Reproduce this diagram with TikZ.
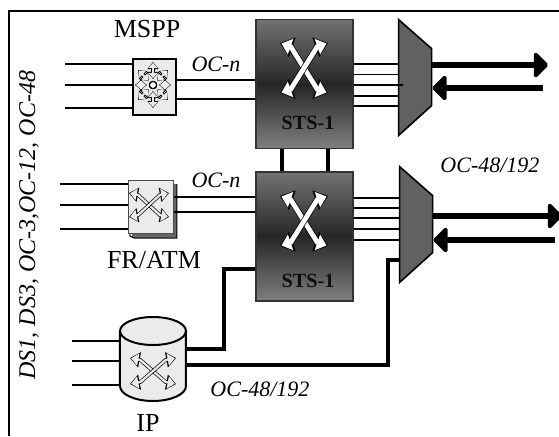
\documentclass[tikz,border=0pt]{standalone}
\usepackage{fontspec}
\setmainfont{Liberation Serif}
\usetikzlibrary{arrows.meta, shapes.geometric, positioning}

% one crossing arrow, black first and the light body over it
\newcommand{\xarm}[5]{%
  \draw[line width=#3, draw=black, {Triangle[length=6.5pt,width=10pt,scale=#5]}-{Triangle[length=6.5pt,width=10pt,scale=#5]}] #1;
  \draw[line width=#2, draw=#4, fill=#4, shorten <=#5*.8pt, shorten >=#5*.8pt, {Triangle[length=4.8pt,width=8pt,scale=#5]}-{Triangle[length=4.8pt,width=8pt,scale=#5]}] #1;
}
\newcommand{\xcross}[8]{%
  \xarm{(#1-#3,#2-#4) -- (#1-.55*#3,#2-.85*#4) -- (#1+.55*#3,#2+.85*#4) -- (#1+#3,#2+#4)}{#5}{#6}{#7}{#8}
  \xarm{(#1+#3,#2-#4) -- (#1+.55*#3,#2-.85*#4) -- (#1-.55*#3,#2+.85*#4) -- (#1-#3,#2+#4)}{#5}{#6}{#7}{#8}
}

\begin{document}
\begin{tikzpicture}[x=.5pt,y=-.5pt]
    \tikzstyle{stub}=[line width=1pt]
    \tikzstyle{trunk}=[line width=1.6pt]
    \tikzstyle{thin stub}=[line width=.8pt]
    \tikzstyle{bigarrow}=[line width=3pt,-{Triangle[round,length=7.5pt,width=14.5pt]}]
    \tikzstyle{icon}=[rectangle,draw=black,line width=1pt,fill=black!8,inner sep=0pt]
    \tikzstyle{stsbox}=[rectangle,draw=black!80,line width=.7pt,inner sep=0pt,minimum width=48.5pt,minimum height=64.5pt,
        top color=black!55,bottom color=black!50,middle color=black!85]
    \tikzstyle{muxnode}=[rectangle,inner sep=0pt,minimum width=16.5pt]
    \tikzstyle{muxbody}=[draw=black,line width=.8pt,fill=black!62]
    \tikzstyle{lab}=[font=\fontsize{13}{13}\selectfont,inner sep=0pt]
    \tikzstyle{oc}=[font=\fontsize{11}{11}\selectfont\itshape,inner sep=0pt]

    \useasboundingbox (0,0) rectangle (559,436);

    % the frame
    \draw[line width=.9pt] (559,11) -- (9,11) -- (9,436);

    % Draw the two STS-1 boxes and the muxes
    \node[stsbox] (STS-1) at (304.5,84) {};
    \node[stsbox] (STS-2) at (304.5,236.5) {};
    \node[muxnode,minimum height=57.5pt] (Mux-1) at (415.5,77.5) {};
    \node[muxnode,minimum height=57.5pt] (Mux-2) at (416.5,224.5) {};
    \draw[muxbody] (Mux-1.north west) -- ++(33,29) -- ++(0,57) -- (Mux-1.south west) -- cycle;
    \draw[muxbody] (Mux-2.north west) -- ++(33,29) -- ++(0,57) -- (Mux-2.south west) -- cycle;
    \node[font=\fontsize{10.1}{10}\selectfont\bfseries,text=black!95] (STS-1-lab) at (308,123) {STS-1};
    \node[font=\fontsize{10.1}{10}\selectfont\bfseries,text=black!95] (STS-2-lab) at (308,281) {STS-1};
    \xcross{304}{68}{24}{25}{2.4pt}{3.1pt}{white}{1}
    \xcross{304}{221}{24}{25}{2.4pt}{3.1pt}{white}{1}

    % Draw the access nodes
    \node[icon,minimum width=21.5pt,minimum height=28pt] (MSPP) at (154.5,87) {};
    \fill[black!60] (132,184) rectangle (177,238);
    \draw[black,line width=.5pt] (130,184) -- (130,236) -- (134,238) -- (177,238) -- (177,184);
    \node[icon,draw=black!70,line width=.5pt,minimum width=22.5pt,minimum height=26.5pt] (FR) at (151,207) {};
    \path[draw=black,line width=1pt,fill=black!8] (120,331) -- (120,386) arc[start angle=180,end angle=0,x radius=33,y radius=15] -- (186,331) arc[start angle=0,end angle=-180,x radius=33,y radius=14] -- cycle;
    \draw[black,line width=1pt] (120,331) arc[start angle=180,end angle=0,x radius=33,y radius=14];
    \node[rectangle,inner sep=0pt,minimum width=33pt,minimum height=42pt] (IP) at (153,359) {};

    % arrows inside the icons
    \foreach \a/\r in {0/18,45/21,90/23,135/21,180/18,225/21,270/23,315/21}
        \xarm{(153,85)++(\a:6) -- ++(\a:\r-6)}{1pt}{1.6pt}{black!8}{.55}
    \draw[black,line width=.5pt,fill=white] (153,85) circle (3.5);
    \xcross{149}{205}{20}{12}{1.1pt}{1.8pt}{black!8}{.7}
    \xcross{153}{371}{23}{13}{1.1pt}{1.8pt}{black!8}{.75}

    % Draw the tributary lines
    \foreach \y in {64,85,108}{
        \coordinate (A-\y) at (65,\y);
        \draw[stub] (A-\y) -- (MSPP.west |- A-\y);
    }
    \foreach \y in {184,205,229}{
        \coordinate (B-\y) at (60,\y);
        \draw[stub] (B-\y) -- (FR.west |- B-\y);
    }
    \foreach \y in {341,361,385}{
        \coordinate (C-\y) at (72,\y);
        \draw[stub] (C-\y) -- (IP.west |- C-\y);
    }

    % OC-n links
    \foreach \y in {80,99}
        \draw[stub] (MSPP.east |- 0,\y) -- (STS-1.west |- 0,\y);
    \foreach \y in {197,212}
        \draw[stub] (FR.east |- 0,\y) -- (STS-2.west |- 0,\y);

    % between the boxes and to the muxes
    \foreach \x in {282,328}
        \draw[trunk] (\x,0 |- STS-1.south) -- (\x,0 |- STS-2.north);
    \foreach \y in {64,74.5,96,106}
        \draw[thin stub] (STS-1.east |- 0,\y) -- (Mux-1.west |- 0,\y);
    \coordinate (G-1) at (403,85);
    \draw[thin stub] (STS-1.east |- G-1) -- (G-1);
    \foreach \y in {198,208,218,229,240}
        \draw[thin stub] (STS-2.east |- 0,\y) -- (Mux-2.west |- 0,\y);

    % IP uplinks
    \draw[trunk] (IP.east |- 0,349) -- (224,349) |- (STS-2.west |- 0,269);
    \draw[trunk] (IP.east |- 0,365) -- (388,365) |- (Mux-2.west |- 0,260);

    % line side arrows
    \coordinate (E-1) at (548,65);
    \coordinate (F-1) at (543,88);
    \coordinate (E-2) at (562,216);
    \coordinate (F-2) at (555,240);
    \draw[bigarrow] (Mux-1.east |- E-1) -- (E-1);
    \draw[bigarrow] (F-1) -- (Mux-1.east |- F-1);
    \draw[bigarrow] (Mux-2.east |- E-2) -- (E-2);
    \draw[bigarrow] (F-2) -- (Mux-2.east |- F-2);

    % labels
    \node[lab] (MSPP-lab) at (147,29) {MSPP};
    \node[lab] (FR-lab) at (154,260) {FR/ATM};
    \node[lab] (IP-lab) at (148,423) {IP};
    \node[oc] (oc-n-1) at (216,64) {OC-n};
    \node[oc] (oc-n-2) at (216,180) {OC-n};
    \node[oc] (oc-48-1) at (490,165) {OC-48/192};
    \node[oc] (oc-48-2) at (260,389) {OC-48/192};
    \node[oc,font=\fontsize{12}{12}\selectfont\itshape,rotate=90] (ds) at (29,225) {DS1, DS3, OC-3,OC-12, OC-48};
\end{tikzpicture}
\end{document}
